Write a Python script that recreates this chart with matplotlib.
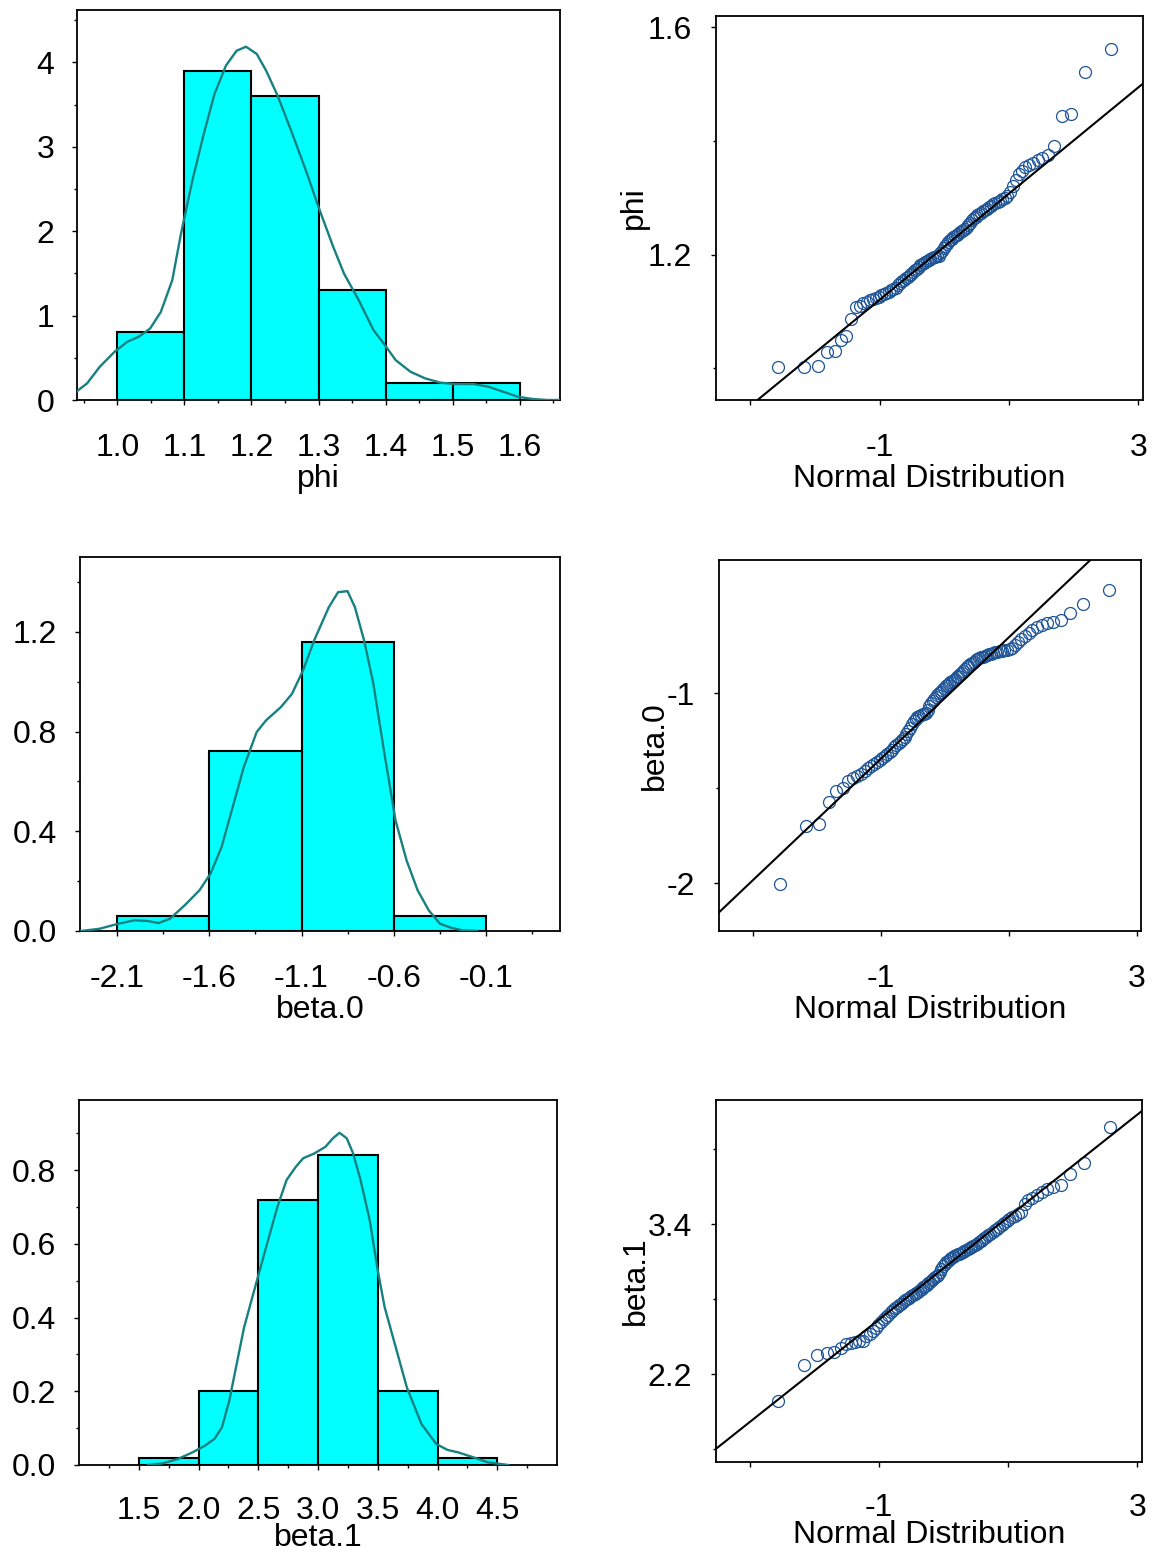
"""Posterior summary: histogram + density (left) and normal QQ plot (right)
for phi, beta.0 and beta.1. Output: out.png
"""
import statistics

import matplotlib
matplotlib.use("Agg")
import matplotlib.pyplot as plt  # noqa: E402
from matplotlib.ticker import FixedLocator, FormatStrFormatter  # noqa: E402

plt.rcParams["font.family"] = ["Liberation Sans", "DejaVu Sans"]
plt.rcParams["axes.unicode_minus"] = False

W, H = 1152, 1555
FS = 23
BAR = "#00ffff"
KDE = "#178080"
PT = "#1f5496"

# ---- samples (sorted, n = 100) ----
phi_vals = [
    1.002, 1.002, 1.003, 1.029, 1.031, 1.049, 1.056, 1.086, 1.107, 1.109,
    1.114, 1.117, 1.120, 1.122, 1.124, 1.126, 1.128, 1.130, 1.132, 1.134,
    1.137, 1.139, 1.142, 1.146, 1.150, 1.153, 1.155, 1.158, 1.161, 1.164,
    1.166, 1.169, 1.172, 1.175, 1.178, 1.181, 1.183, 1.185, 1.187, 1.189,
    1.191, 1.193, 1.194, 1.195, 1.196, 1.197, 1.198, 1.203, 1.207, 1.211,
    1.215, 1.219, 1.222, 1.225, 1.228, 1.231, 1.233, 1.235, 1.237, 1.239,
    1.241, 1.243, 1.245, 1.248, 1.252, 1.256, 1.260, 1.264, 1.267, 1.270,
    1.272, 1.274, 1.276, 1.278, 1.280, 1.283, 1.286, 1.289, 1.291, 1.293,
    1.295, 1.297, 1.299, 1.304, 1.310, 1.320, 1.332, 1.342, 1.347, 1.355,
    1.358, 1.361, 1.366, 1.370, 1.375, 1.392, 1.444, 1.448, 1.522, 1.562,
]
beta0_vals = [
    -2.007, -1.697, -1.690, -1.572, -1.512, -1.500, -1.460, -1.448, -1.438, -1.425,
    -1.410, -1.392, -1.380, -1.370, -1.362, -1.352, -1.340, -1.330, -1.318, -1.308,
    -1.298, -1.285, -1.272, -1.262, -1.250, -1.240, -1.228, -1.212, -1.196, -1.180,
    -1.162, -1.145, -1.134, -1.124, -1.118, -1.113, -1.109, -1.106, -1.102, -1.085,
    -1.068, -1.052, -1.040, -1.030, -1.020, -1.010, -1.000, -0.990, -0.980, -0.970,
    -0.962, -0.955, -0.948, -0.941, -0.935, -0.929, -0.922, -0.915, -0.907, -0.899,
    -0.890, -0.880, -0.871, -0.862, -0.854, -0.847, -0.840, -0.833, -0.826, -0.820,
    -0.815, -0.810, -0.806, -0.802, -0.798, -0.794, -0.790, -0.786, -0.783, -0.780,
    -0.777, -0.775, -0.772, -0.769, -0.765, -0.758, -0.745, -0.728, -0.712, -0.695,
    -0.680, -0.664, -0.648, -0.638, -0.630, -0.622, -0.613, -0.574, -0.528, -0.455,
]
beta1_vals = [
    1.985, 2.272, 2.352, 2.366, 2.379, 2.406, 2.440, 2.452, 2.458, 2.462,
    2.468, 2.505, 2.522, 2.545, 2.570, 2.592, 2.615, 2.640, 2.660, 2.678,
    2.695, 2.712, 2.728, 2.742, 2.754, 2.766, 2.779, 2.792, 2.803, 2.813,
    2.823, 2.833, 2.842, 2.852, 2.862, 2.872, 2.884, 2.896, 2.907, 2.918,
    2.929, 2.940, 2.952, 2.964, 2.975, 2.985, 2.994, 3.020, 3.045, 3.065,
    3.082, 3.098, 3.110, 3.120, 3.130, 3.138, 3.146, 3.154, 3.160, 3.166,
    3.172, 3.180, 3.188, 3.196, 3.204, 3.212, 3.220, 3.228, 3.236, 3.246,
    3.256, 3.266, 3.277, 3.288, 3.300, 3.312, 3.325, 3.338, 3.352, 3.366,
    3.381, 3.396, 3.412, 3.428, 3.444, 3.458, 3.471, 3.484, 3.496, 3.560,
    3.592, 3.615, 3.638, 3.658, 3.680, 3.700, 3.715, 3.803, 3.889, 4.182,
]

# ---- histogram bins ----
phi_bins = [1.0, 1.1, 1.2, 1.3, 1.4, 1.5, 1.6]
beta0_bins = [-2.1, -1.6, -1.1, -0.6, -0.1]
beta1_bins = [1.5, 2.0, 2.5, 3.0, 3.5, 4.0, 4.5]

# ---- density curves ----
phi_kde_x = [0.939, 0.955, 0.974, 0.996, 1.015, 1.032, 1.049, 1.065, 1.082, 1.095,
             1.112, 1.129, 1.145, 1.162, 1.178, 1.192, 1.208, 1.222, 1.239, 1.261,
             1.283, 1.300, 1.322, 1.338, 1.360, 1.382, 1.399, 1.415, 1.437, 1.459,
             1.482, 1.504, 1.531, 1.553, 1.575, 1.597, 1.619, 1.641, 1.661]
phi_kde_y = [0.099, 0.197, 0.394, 0.571, 0.690, 0.749, 0.847, 1.044, 1.419, 1.970,
             2.601, 3.153, 3.626, 3.961, 4.138, 4.185, 4.099, 3.901, 3.606, 3.153,
             2.680, 2.286, 1.813, 1.498, 1.182, 0.828, 0.650, 0.473, 0.335, 0.256,
             0.205, 0.189, 0.189, 0.158, 0.099, 0.039, 0.012, 0.0, 0.0]
beta0_kde_x = [-2.294, -2.194, -2.094, -2.004, -1.934, -1.874, -1.813, -1.733, -1.653,
               -1.593, -1.533, -1.473, -1.413, -1.343, -1.292, -1.212, -1.152, -1.092,
               -1.032, -0.952, -0.902, -0.851, -0.811, -0.761, -0.711, -0.651, -0.591,
               -0.531, -0.471, -0.411, -0.350, -0.290, -0.230, -0.150]
beta0_kde_y = [0.0, 0.009, 0.029, 0.043, 0.040, 0.032, 0.049, 0.103, 0.163,
               0.230, 0.337, 0.497, 0.657, 0.798, 0.845, 0.898, 0.951, 1.045,
               1.165, 1.299, 1.359, 1.363, 1.299, 1.165, 0.992, 0.711, 0.444,
               0.283, 0.163, 0.083, 0.029, 0.013, 0.003, 0.0]
beta1_kde_x = [1.577, 1.701, 1.825, 1.948, 2.057, 2.134, 2.196, 2.258, 2.320, 2.382,
               2.474, 2.567, 2.660, 2.737, 2.815, 2.876, 2.969, 3.062, 3.124, 3.180,
               3.241, 3.294, 3.356, 3.433, 3.495, 3.557, 3.650, 3.743, 3.866, 3.990,
               4.083, 4.176, 4.299, 4.423, 4.593]
beta1_kde_y = [0.0, 0.0045, 0.016, 0.034, 0.053, 0.071, 0.102, 0.175, 0.275, 0.374,
               0.483, 0.592, 0.700, 0.773, 0.809, 0.832, 0.845, 0.863, 0.886, 0.901,
               0.886, 0.845, 0.773, 0.664, 0.537, 0.429, 0.320, 0.211, 0.111, 0.057,
               0.041, 0.034, 0.021, 0.007, 0.0]

# ---- reference lines on the QQ plots (intercept, slope) ----
phi_line = (1.214, 0.0935)
beta0_line = (-1.025, 0.32)
beta1_line = (3.05, 0.41)


def add_ax(fig, x0, y0, x1, y1):
    return fig.add_axes([x0 / W, 1 - y1 / H, (x1 - x0) / W, (y1 - y0) / H])


def style(ax, xpad=20, ypad=13):
    for s in ax.spines.values():
        s.set_linewidth(1.3)
    ax.tick_params(which="both", direction="out", width=1.0, labelsize=FS)
    ax.tick_params(which="major", length=3.5)
    ax.tick_params(which="minor", length=2.5)
    ax.tick_params(axis="x", which="both", pad=xpad)
    ax.tick_params(axis="y", which="both", pad=ypad)


def hist_panel(ax, vals, bins, kx, ky, xlim, ylim, xmaj, xmin, ymaj, ymin,
               xfmt, yfmt, label, xpad=20, lpad=1):
    ax.hist(vals, bins=bins, density=True, color=BAR, edgecolor="black",
            linewidth=1.5, zorder=2)
    ax.plot(kx, ky, color=KDE, lw=1.7, zorder=3)
    ax.set_xlim(*xlim)
    ax.set_ylim(*ylim)
    ax.xaxis.set_major_locator(FixedLocator(xmaj))
    ax.xaxis.set_minor_locator(FixedLocator(xmin))
    ax.yaxis.set_major_locator(FixedLocator(ymaj))
    ax.yaxis.set_minor_locator(FixedLocator(ymin))
    ax.xaxis.set_major_formatter(FormatStrFormatter(xfmt))
    ax.yaxis.set_major_formatter(FormatStrFormatter(yfmt))
    ax.set_xlabel(label, fontsize=FS, labelpad=lpad)
    style(ax, xpad=xpad)


def qq_panel(ax, vals, line, ylim, ymaj, ymin, yfmt, label, lab_x, xpad=20, lpad=1):
    n = len(vals)
    nd = statistics.NormalDist()
    q = [nd.inv_cdf((i + 0.5) / n) for i in range(n)]
    ax.plot(q, sorted(vals), "o", mfc="none", mec=PT, ms=8.6, mew=0.9, zorder=2)
    ax.axline((0, line[0]), slope=line[1], color="black", lw=1.5, zorder=3)
    ax.set_xlim(-3.53, 3.07)
    ax.set_ylim(*ylim)
    ax.xaxis.set_major_locator(FixedLocator([-1, 3]))
    ax.xaxis.set_minor_locator(FixedLocator([-3, 1]))
    ax.yaxis.set_major_locator(FixedLocator(ymaj))
    ax.yaxis.set_minor_locator(FixedLocator(ymin))
    ax.xaxis.set_major_formatter(FormatStrFormatter("%d"))
    ax.yaxis.set_major_formatter(FormatStrFormatter(yfmt))
    ax.set_xlabel("Normal Distribution", fontsize=FS, labelpad=lpad)
    ax.set_ylabel(label, fontsize=FS, va="center")
    ax.yaxis.set_label_coords(lab_x, 0.5)
    style(ax, xpad=xpad, ypad=14)
    ax.tick_params(axis="x", which="minor", length=3.5)


fig = plt.figure(figsize=(W / 100, H / 100), dpi=100)

ax = add_ax(fig, 77, 10, 560, 400)
hist_panel(ax, phi_vals, phi_bins, phi_kde_x, phi_kde_y, (0.94, 1.66), (0, 4.62),
           phi_bins, [0.95, 1.05, 1.15, 1.25, 1.35, 1.45, 1.55, 1.65],
           [0, 1, 2, 3, 4], [0.5, 1.5, 2.5, 3.5, 4.5], "%.1f", "%d", "phi")

ax = add_ax(fig, 716, 16, 1143, 400)
qq_panel(ax, phi_vals, phi_line, (0.944, 1.62), [1.2, 1.6], [1.0, 1.4], "%.1f",
         "phi", -0.193)

ax = add_ax(fig, 80, 557, 560, 931)
hist_panel(ax, beta0_vals, beta0_bins, beta0_kde_x, beta0_kde_y, (-2.3, 0.3), (0, 1.5),
           beta0_bins, [-1.85, -1.35, -0.85, -0.35, 0.15],
           [0.0, 0.4, 0.8, 1.2], [0.2, 0.6, 1.0, 1.4], "%.1f", "%.1f", "beta.0")

ax = add_ax(fig, 719, 560, 1141, 931)
qq_panel(ax, beta0_vals, beta0_line, (-2.253, -0.296), [-2, -1], [-1.5], "%d",
         "beta.0", -0.152)

# bottom row: labels pulled up slightly so they stay inside the figure
ax = add_ax(fig, 79, 1100, 557, 1465)
hist_panel(ax, beta1_vals, beta1_bins, beta1_kde_x, beta1_kde_y, (1.0, 5.0), (0, 0.99),
           beta1_bins, [1.25, 1.75, 2.25, 2.75, 3.25, 3.75, 4.25, 4.75],
           [0.0, 0.2, 0.4, 0.6, 0.8], [0.1, 0.3, 0.5, 0.7, 0.9], "%.1f", "%.1f",
           "beta.1", xpad=19, lpad=-2)

ax = add_ax(fig, 716, 1100, 1142, 1462)
qq_panel(ax, beta1_vals, beta1_line, (1.497, 4.396), [2.2, 3.4], [1.6, 2.8, 4.0],
         "%.1f", "beta.1", -0.187, xpad=19, lpad=-2)

fig.savefig("out.png", dpi=100)
plt.close(fig)
